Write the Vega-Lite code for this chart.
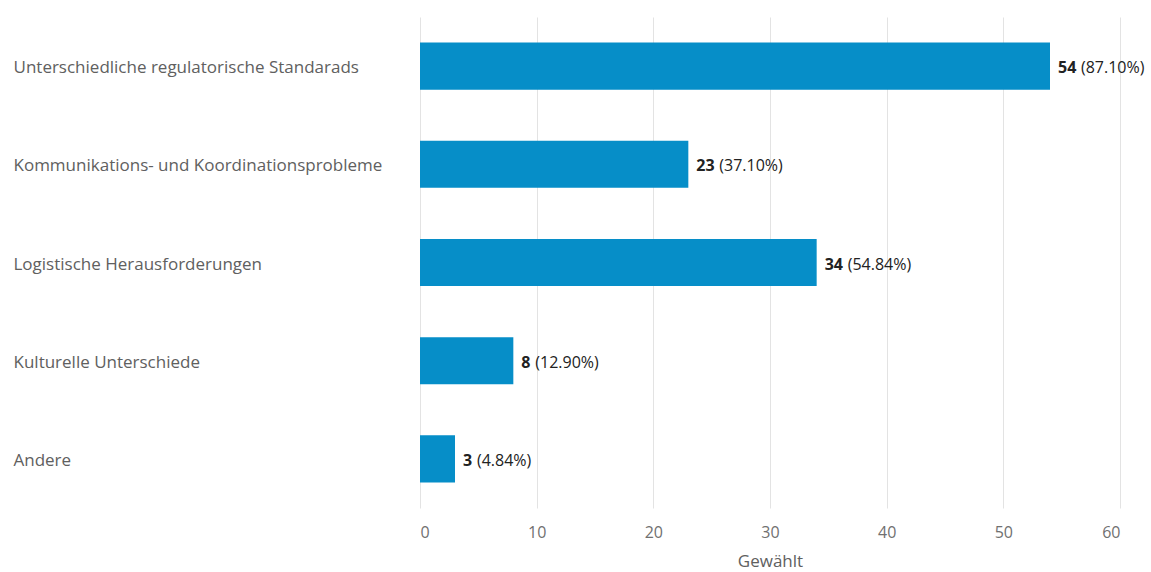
{
  "$schema": "https://vega.github.io/schema/vega-lite/v6.json",
  "autosize": {"type": "none"},
  "padding": {"left": 420, "top": 17, "right": 31, "bottom": 64},
  "width": 700,
  "height": 491,
  "background": "white",
  "config": {"view": {"stroke": null}, "font": "Open Sans"},
  "data": {"values": [
    {"cat": "Unterschiedliche regulatorische Standarads", "count": 54, "pct": 87.10},
    {"cat": "Kommunikations- und Koordinationsprobleme", "count": 23, "pct": 37.10},
    {"cat": "Logistische Herausforderungen", "count": 34, "pct": 54.84},
    {"cat": "Kulturelle Unterschiede", "count": 8, "pct": 12.90},
    {"cat": "Andere", "count": 3, "pct": 4.84}
  ]},
  "transform": [
    {"calculate": "'(' + format(datum.pct, '.2f') + '%)'", "as": "rest"}
  ],
  "encoding": {
    "y": {"field": "cat", "type": "nominal", "sort": null,
      "scale": {"paddingInner": 0.52, "paddingOuter": 0.26},
      "axis": {"title": null, "ticks": false, "domain": false, "labelAlign": "left", "labelPadding": 407, "labelOffset": 2, "labelLimit": 500, "labelFontSize": 17, "labelColor": "#606060", "labelFont": "Open Sans"}},
    "x": {"field": "count", "type": "quantitative",
      "scale": {"domain": [0, 60], "nice": false},
      "axis": {"title": "Gewählt", "values": [0, 10, 20, 30, 40, 50, 60], "grid": true, "gridColor": "#e3e3e3", "domain": false, "ticks": false, "labelPadding": 16, "labelFontSize": 16, "labelColor": "#707070", "titleFontSize": 17, "titleFontWeight": "normal", "titleColor": "#606060", "titlePadding": 13, "labelFont": "Open Sans", "titleFont": "Open Sans"}}
  },
  "layer": [
    {"mark": {"type": "bar", "color": "#068ec8"}},
    {"mark": {"type": "text", "align": "left", "dx": 8, "dy": 2, "fontSize": 16, "fontWeight": "bold", "color": "#222222", "font": "Open Sans"},
     "encoding": {"text": {"field": "count", "type": "quantitative"}}},
    {"mark": {"type": "text", "align": "left", "dx": {"expr": "datum.count >= 10 ? 31 : 22"}, "dy": 2, "fontSize": 16, "color": "#222222", "font": "Open Sans"},
     "encoding": {"text": {"field": "rest", "type": "nominal"}}}
  ]
}
